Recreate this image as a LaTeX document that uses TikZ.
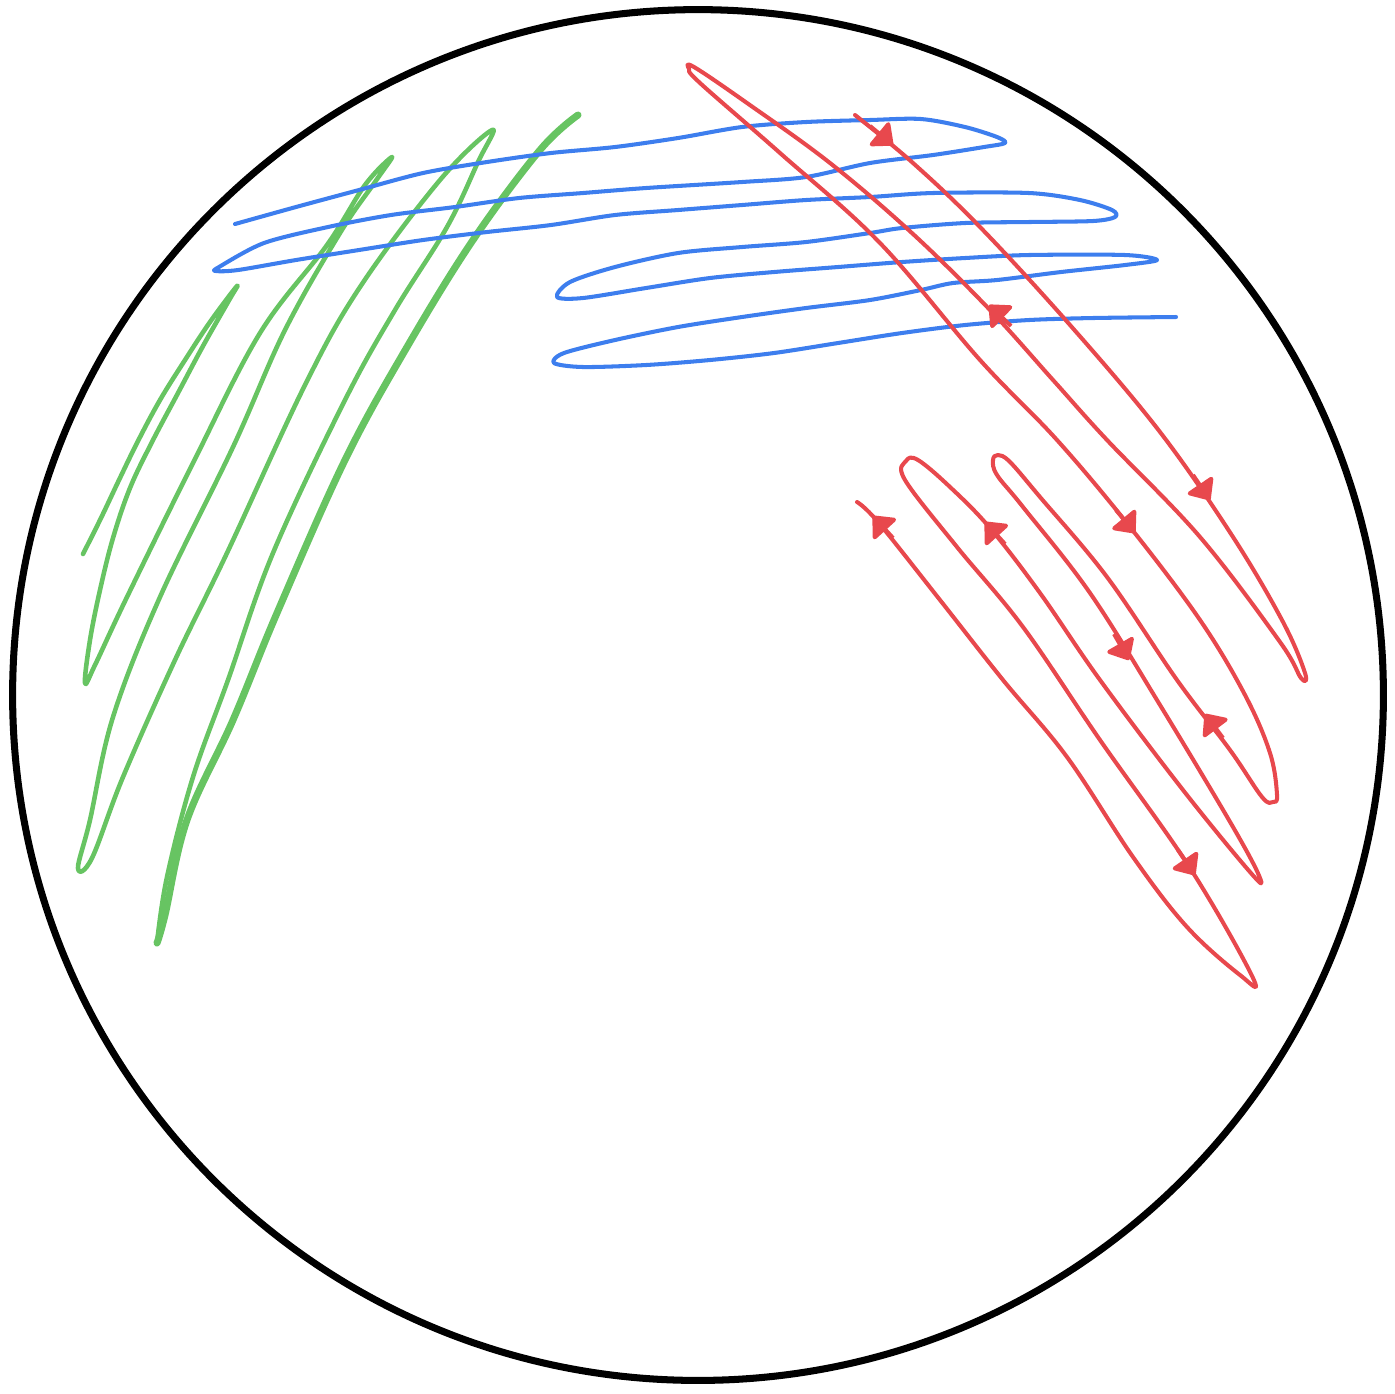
\documentclass[tikz,border=0pt]{standalone}
\usepackage{tikz}
\usetikzlibrary{arrows.meta}
\definecolor{streakRed}{RGB}{232,72,77}
\definecolor{streakBlue}{RGB}{61,126,238}
\definecolor{streakGreen}{RGB}{103,196,98}
\tikzset{
    dishRim/.style={
        draw=black,
        line width=2pt
    },
    streakLine/.style={
        line width=1.15pt,
        line cap=round,
        line join=round
    },
    greenStreak/.style={
        streakLine,
        draw=streakGreen,
        line width=1.3pt
    },
    blueStreak/.style={
        streakLine,
        draw=streakBlue
    },
    redStreak/.style={
        streakLine,
        draw=streakRed
    },
    streakArrow/.style={
        -{Triangle[length=2mm,width=3.4mm,round]},
        draw=streakRed,
        fill=streakRed,
        line width=1.15pt
    }
}

\begin{document}
\begin{tikzpicture}[x=0.01cm,y=-0.01cm]
        \useasboundingbox (0,0) rectangle (1395,1393);
        \coordinate (dish) at (698,695);
        \draw[dishRim] (dish) circle[radius=6.85cm];

        % first streak
        \draw[greenStreak] plot[smooth,tension=0.6] coordinates {
            (83,554) (101,518) (119,480) (138,441) (160,400) (185,360) (210,322) (237,286)
            (228,302) (203,346) (178,393) (152,442) (130,488) (113,538) (100,590) (90,640) (85,683)
            (95,665) (127,597) (193,463) (260,333) (327,245) (365,185) (392,157)
            (375,182) (340,233) (285,330) (233,447) (160,597) (113,717) (90,820) (78,868)
            (92,858) (123,777) (175,660) (227,553) (305,385) (360,287) (440,180) (492,130)
            (478,162) (447,227) (395,310) (345,400) (273,553) (228,680) (193,777) (167,877)
            (157,943)};
        \draw[greenStreak,line width=2pt] plot[smooth,tension=0.6] coordinates {
            (157,943) (165,915) (187,820) (233,720) (277,613) (345,460) (407,347) (473,240)
            (540,150) (578,115)};

        % second streak
        \draw[blueStreak] plot[smooth,tension=0.5] coordinates {
            (235,224) (296,207) (359,190) (423,173) (487,162) (551,153) (615,147) (678,138)
            (742,127) (806,122) (870,120) (921,119) (965,127) (997,137) (1005,143)
            (984,147) (933,155) (870,163) (806,177) (742,182) (646,188) (583,193) (519,198)
            (455,207) (391,215) (328,227) (264,243) (219,267) (216,271)
            (238,270) (296,260) (359,250) (423,240) (487,232) (551,225) (615,215) (678,210)
            (742,205) (806,200) (870,197) (933,193) (1029,193) (1080,200) (1112,210) (1115,217)
            (1093,221) (1029,222) (965,223) (902,228) (870,233) (806,242) (742,247) (678,253)
            (615,267) (570,282) (557,297)
            (583,298) (646,288) (710,278) (774,272) (838,267) (902,262) (965,258) (1029,255)
            (1125,255) (1157,260)
            (1125,265) (1061,272) (997,280) (953,283) (921,290) (870,300) (806,308) (742,317)
            (678,327) (615,340) (564,353) (554,363)
            (583,367) (646,365) (710,360) (774,353) (838,343) (902,333) (965,325) (1029,320)
            (1093,318) (1176,317)};

        % third streak
        \draw[redStreak] plot[smooth,tension=0.6] coordinates {
            (855,115) (913,163) (980,227) (1070,325) (1160,432) (1233,537) (1283,622) (1305,673)
            (1301,678) (1280,642) (1200,537) (1107,440) (1053,380) (990,310) (913,234)
            (830,163) (747,103) (694,67)
            (689,69) (700,83) (780,153) (880,243) (980,360) (1057,440) (1130,527) (1200,620)
            (1245,695) (1270,753) (1277,795) (1273,802)
            (1262,797) (1230,750) (1177,680) (1107,577) (1040,497) (1010,462) (998,455)
            (993,460) (997,475) (1023,507) (1090,593) (1160,705) (1233,827) (1260,878)
            (1250,872) (1183,790) (1100,680) (1040,593) (990,528) (950,487) (918,460)
            (906,461) (905,480) (957,547) (1023,627) (1100,740) (1190,868) (1253,978)
            (1240,975) (1187,927) (1133,857) (1067,757) (1003,680) (940,600) (878,522)
            (857,502)};
        \draw[streakArrow] (870,126) -- (893,145);
        \draw[streakArrow] (1193,475) -- (1210,500);
        \draw[streakArrow] (1011,326) -- (989,305);
        \draw[streakArrow] (1116,510) -- (1135,533);
        \draw[streakArrow] (1223,738) -- (1205,714);
        \draw[streakArrow] (1114,634) -- (1129,660);
        \draw[streakArrow] (1005,544) -- (985,522);
        \draw[streakArrow] (1178,850) -- (1195,875);
        \draw[streakArrow] (893,538) -- (873,516);
    \end{tikzpicture}
\end{document}
